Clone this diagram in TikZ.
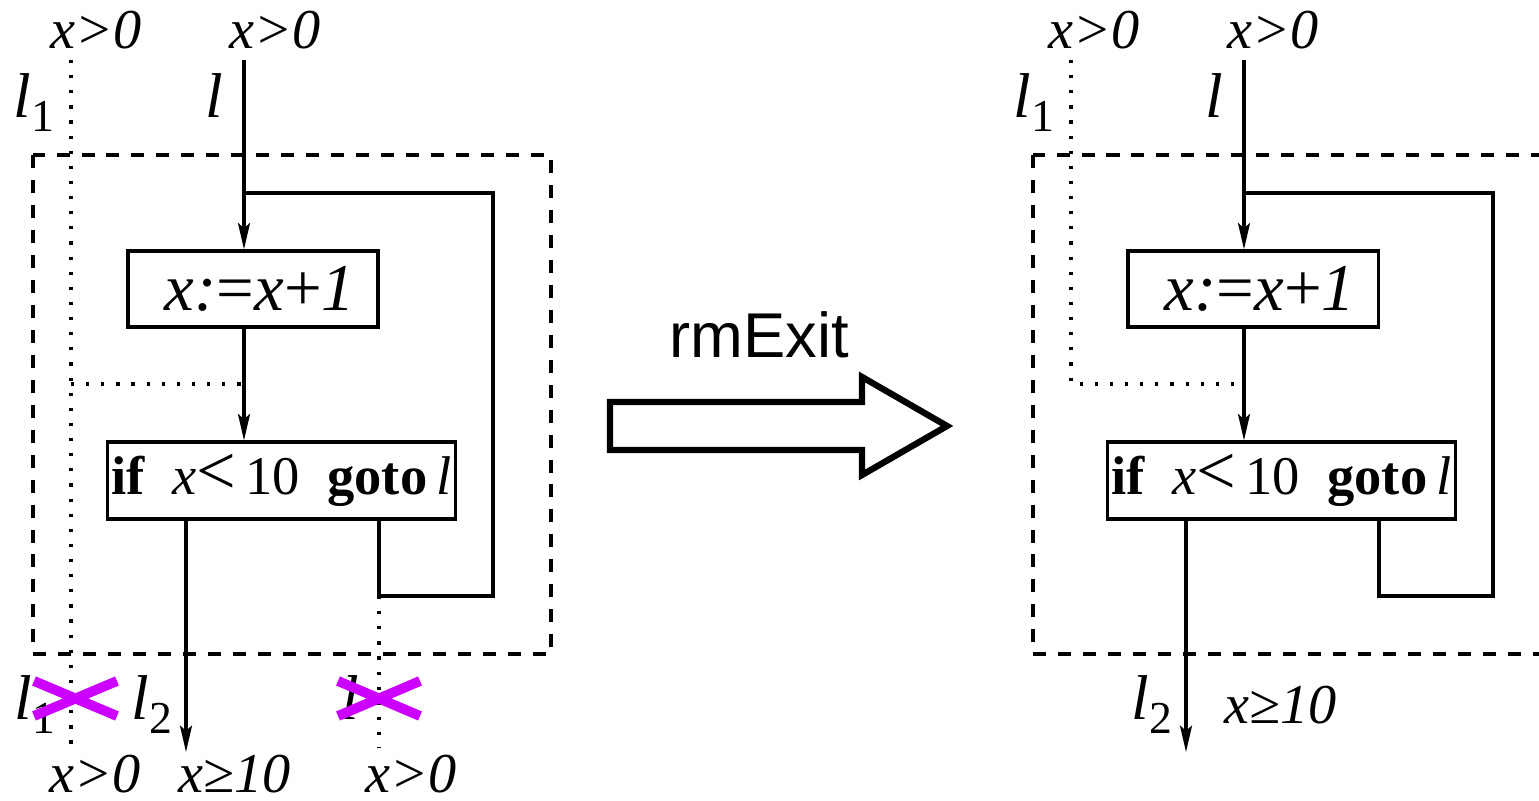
\documentclass[tikz,border=0pt]{standalone}
\usepackage{fontspec}
\setmainfont{Liberation Serif}
\newfontfamily\helv{Liberation Sans}
\usepackage{xcolor}
\usetikzlibrary{arrows.meta}
\definecolor{crossmag}{RGB}{204,0,255}
\newcommand{\lab}[2]{#1\raisebox{-0.45ex}{\upshape\fontsize{13}{13}\selectfont #2}}
\tikzset{
  cfgbox/.style={draw, line width=0.9pt, inner sep=0pt, font=\fontsize{19}{22}\selectfont},
  ifbox/.style={cfgbox, inner xsep=0.035cm, minimum height=0.77cm,
                font=\fontsize{15.5}{20}\selectfont},
  cfgw/.style={line width=0.9pt},
  cfgarr/.style={cfgw, -{Stealth[length=7.5pt,width=3.4pt,inset=1.5pt]}},
  cfgdash/.style={line width=0.9pt, dash pattern=on 3.7pt off 3.4pt},
  cfgdot/.style={line width=0.9pt, dash pattern=on 0.9pt off 3.4pt},
  condlab/.style={font=\fontsize{16}{18}\selectfont\itshape, inner sep=0pt},
  blklab/.style={font=\fontsize{18}{20}\selectfont\itshape, inner sep=0pt},
  killx/.style={crossmag, line width=2.8pt}
}
\newcommand{\iftext}{\makebox[3.4cm][r]{\textbf{if}\ \ {\itshape x}{\fontsize{20}{20}\selectfont<}\,10\ \ \textbf{goto}\,{\itshape l}}}
\newcommand{\asgtext}{\hspace*{0.14cm}{\itshape x:}={\itshape x}+{\itshape 1}}

\begin{document}
\begin{tikzpicture}[x=0.01cm, y=-0.01cm]
  \useasboundingbox (0,0) rectangle (1539,801);
  % before rmExit
  \draw[cfgdash] (33,155) rectangle (551,654);
  \coordinate (inL) at (244,60);
  \coordinate (loopL) at (493,193);
  \coordinate (backL) at (379,596);
  \coordinate (outL) at (186,752);
  \coordinate (d1topL) at (71,60);
  \coordinate (d1botL) at (71,748);
  \coordinate (d2botL) at (379,748);
  \node[cfgbox, minimum width=2.5cm, minimum height=0.76cm] (asgL) at (253,289) {\asgtext};
  \node[ifbox] (ifL) at (281.5,480.5) {\iftext};
  \draw[cfgarr] (inL) -- (inL |- asgL.north);
  \draw[cfgarr] (inL |- asgL.south) -- (inL |- ifL.north);
  \draw[cfgw] (inL |- loopL) -- (loopL) |- (backL) -- (backL |- ifL.south);
  \draw[cfgarr] (outL |- ifL.south) -- (outL);
  \draw[cfgdot] (d1topL) -- (d1botL);
  \draw[cfgdot] (d1topL |- 0,384) -- (inL |- 0,384);
  \draw[cfgdot] (backL) -- (d2botL);
  \node[condlab, anchor=base] (preL1) at (96,49) {x>0};
  \node[condlab, anchor=base] (preL2) at (275,49) {x>0};
  \node[blklab, anchor=base west] (labL1) at (13,118) {\lab{l}{1}};
  \node[blklab, anchor=base] (labL) at (214,118) {l};
  \node[blklab, anchor=base west] (exL1) at (14,720) {\lab{l}{1}};
  \node[blklab, anchor=base west] (exL2) at (131,720) {\lab{l}{2}};
  \node[blklab, anchor=base west] (exL) at (341,720) {l};
  \node[condlab, anchor=base] (postL1) at (95,793) {x>0};
  \node[condlab, anchor=base] (postL2) at (235,793) {x≥10};
  \node[condlab, anchor=base] (postL3) at (411,793) {x>0};
  \draw[killx] (34,681) -- (117,716) (34,716) -- (117,681);
  \draw[killx] (338,681) -- (420,716) (338,716) -- (420,681);
  % transformation arrow
  \draw[line width=1.8pt] (610,402) -- (862,402) -- (862,377) -- (947,426)
    -- (862,475) -- (862,450) -- (610,450) -- cycle;
  \node[font=\helv\fontsize{18}{20}\selectfont] (rmx) at (759,335) {rmExit};
  % after rmExit
  \draw[cfgdash] (1033,155) rectangle (1551,654);
  \coordinate (inR) at (1244,60);
  \coordinate (loopR) at (1493,193);
  \coordinate (backR) at (1379,596);
  \coordinate (outR) at (1186,752);
  \coordinate (d1topR) at (1071,60);
  \node[cfgbox, minimum width=2.5cm, minimum height=0.76cm] (asgR) at (1253,289) {\asgtext};
  \node[ifbox] (ifR) at (1281.5,480.5) {\iftext};
  \draw[cfgarr] (inR) -- (inR |- asgR.north);
  \draw[cfgarr] (inR |- asgR.south) -- (inR |- ifR.north);
  \draw[cfgw] (inR |- loopR) -- (loopR) |- (backR) -- (backR |- ifR.south);
  \draw[cfgarr] (outR |- ifR.south) -- (outR);
  \draw[cfgdot] (d1topR) -- (d1topR |- 0,384) -- (inR |- 0,384);
  \node[condlab, anchor=base] (preR1) at (1094,49) {x>0};
  \node[condlab, anchor=base] (preR2) at (1273,49) {x>0};
  \node[blklab, anchor=base west] (labR1) at (1013,118) {\lab{l}{1}};
  \node[blklab, anchor=base] (labR) at (1214,118) {l};
  \node[blklab, anchor=base west] (exR2) at (1131,720) {\lab{l}{2}};
  \node[condlab, anchor=base] (postR2) at (1281,724) {x≥10};
\end{tikzpicture}
\end{document}
